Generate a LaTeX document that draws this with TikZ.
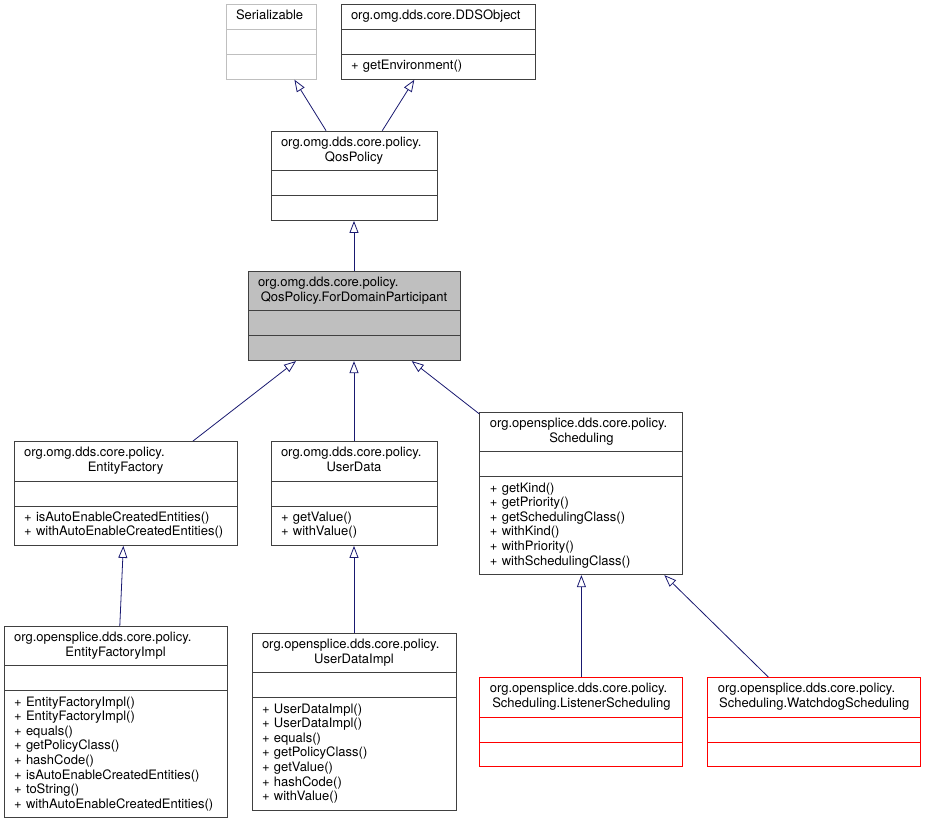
\documentclass[tikz,border=0pt]{standalone}
\usepackage{fontspec}
\setmainfont{TeX Gyre Heros}
\usepackage{xcolor}
\definecolor{midnightBlue}{HTML}{191970}
\definecolor{nodeGrey}{HTML}{BFBFBF}
\definecolor{boxBlack}{HTML}{404040}
\usepackage{tikz}
\usetikzlibrary{arrows.meta}
\tikzset{arrow/.style = {> = {Triangle[open, length = 12pt, width = 9pt]}, draw = midnightBlue, line width = 0.8pt}}
\usetikzlibrary{positioning}
\usetikzlibrary{shapes.multipart}

\newcommand{\classname}[2]{{\raggedright\strut #1\par}{\centering\strut #2\strut\par}}
\newcommand{\onename}[1]{\centering\strut #1\strut}
\newcommand{\members}[1]{\raggedright\strut #1\strut}

\begin{document}
\begin{tikzpicture}[x = 1pt, y = 1pt,
	block/.style = {rectangle split, rectangle split parts = 3, draw = boxBlack, line width = 0.9pt, fill = white, inner xsep = 10pt, inner ysep = 4.7pt, font = \fontsize{13}{14.6}\selectfont},
	current/.style = {block, fill = nodeGrey},
	undoc/.style = {block, draw = nodeGrey},
	missing/.style = {block, draw = red}]
	\useasboundingbox (0, 0) rectangle (925, -824);

	%% Level 0
	\node[current, text width = 192pt] (fdp) at (354, -316) {\classname{org.omg.dds.core.policy.}{QosPolicy.ForDomainParticipant}
		\nodepart{two}\strut
		\nodepart{three}\strut};

	%% Parents
	\node[block, text width = 146pt, above = 50pt of fdp] (qos) {\classname{org.omg.dds.core.policy.}{QosPolicy}
		\nodepart{two}\strut
		\nodepart{three}\strut};
	\node[undoc, text width = 70pt, above = 51pt of qos, xshift = -83pt] (ser) {\onename{Serializable}
		\nodepart{two}\strut
		\nodepart{three}\strut};
	\node[block, text width = 174pt, above = 51pt of qos, xshift = 84pt] (dds) {\onename{org.omg.dds.core.DDSObject}
		\nodepart{two}\strut
		\nodepart{three}\members{+~getEnvironment()}};

	%% Level 1
	\node[block, text width = 146pt, below = 80pt of fdp] (udata) {\classname{org.omg.dds.core.policy.}{UserData}
		\nodepart{two}\strut
		\nodepart{three}\members{+~getValue()\\+~withValue()}};
	\node[block, text width = 203pt, left = 33pt of udata] (efac) {\classname{org.omg.dds.core.policy.}{EntityFactory}
		\nodepart{two}\strut
		\nodepart{three}\members{+~isAutoEnableCreatedEntities()\\+~withAutoEnableCreatedEntities()}};
	\node[block, text width = 183pt, right = 42pt of udata] (sched) {\classname{org.opensplice.dds.core.policy.}{Scheduling}
		\nodepart{two}\strut
		\nodepart{three}\members{+~getKind()\\+~getPriority()\\+~getSchedulingClass()\\+~withKind()\\+~withPriority()\\+~withSchedulingClass()}};

	%% Level 2
	\node[block, text width = 203pt, below = 80pt of efac, xshift = -10pt] (efimpl) {\classname{org.opensplice.dds.core.policy.}{EntityFactoryImpl}
		\nodepart{two}\strut
		\nodepart{three}\members{+~EntityFactoryImpl()\\+~EntityFactoryImpl()\\+~equals()\\+~getPolicyClass()\\+~hashCode()\\+~isAutoEnableCreatedEntities()\\+~toString()\\+~withAutoEnableCreatedEntities()}};
	\node[block, text width = 184pt, below = 87pt of udata] (udimpl) {\classname{org.opensplice.dds.core.policy.}{UserDataImpl}
		\nodepart{two}\strut
		\nodepart{three}\members{+~UserDataImpl()\\+~UserDataImpl()\\+~equals()\\+~getPolicyClass()\\+~getValue()\\+~hashCode()\\+~withValue()}};
	\node[missing, text width = 183pt, below = 102pt of sched] (lsched) {\classname{org.opensplice.dds.core.policy.}{Scheduling.ListenerScheduling}
		\nodepart{two}\strut
		\nodepart{three}\strut};
	\node[missing, text width = 193pt, right = 24pt of lsched] (wsched) {\classname{org.opensplice.dds.core.policy.}{Scheduling.WatchdogScheduling}
		\nodepart{two}\strut
		\nodepart{three}\strut};

	%% Arrows...
	% ... to the parents
	\draw[->, arrow] (qos) -- (ser);
	\draw[->, arrow] (qos) -- (dds);
	\draw[->, arrow] (fdp) -- (qos);

	% ... level 1 to 0
	\draw[->, arrow] (efac) -- (fdp);
	\draw[->, arrow] (udata) -- (fdp);
	\draw[->, arrow] (sched) -- (fdp);

	% ... level 2 to 1
	\draw[->, arrow] (efimpl) -- (efac);
	\draw[->, arrow] (udimpl) -- (udata);
	\draw[->, arrow] (lsched) -- (sched);
	\draw[->, arrow] (wsched) -- (sched);
\end{tikzpicture}
\end{document}
